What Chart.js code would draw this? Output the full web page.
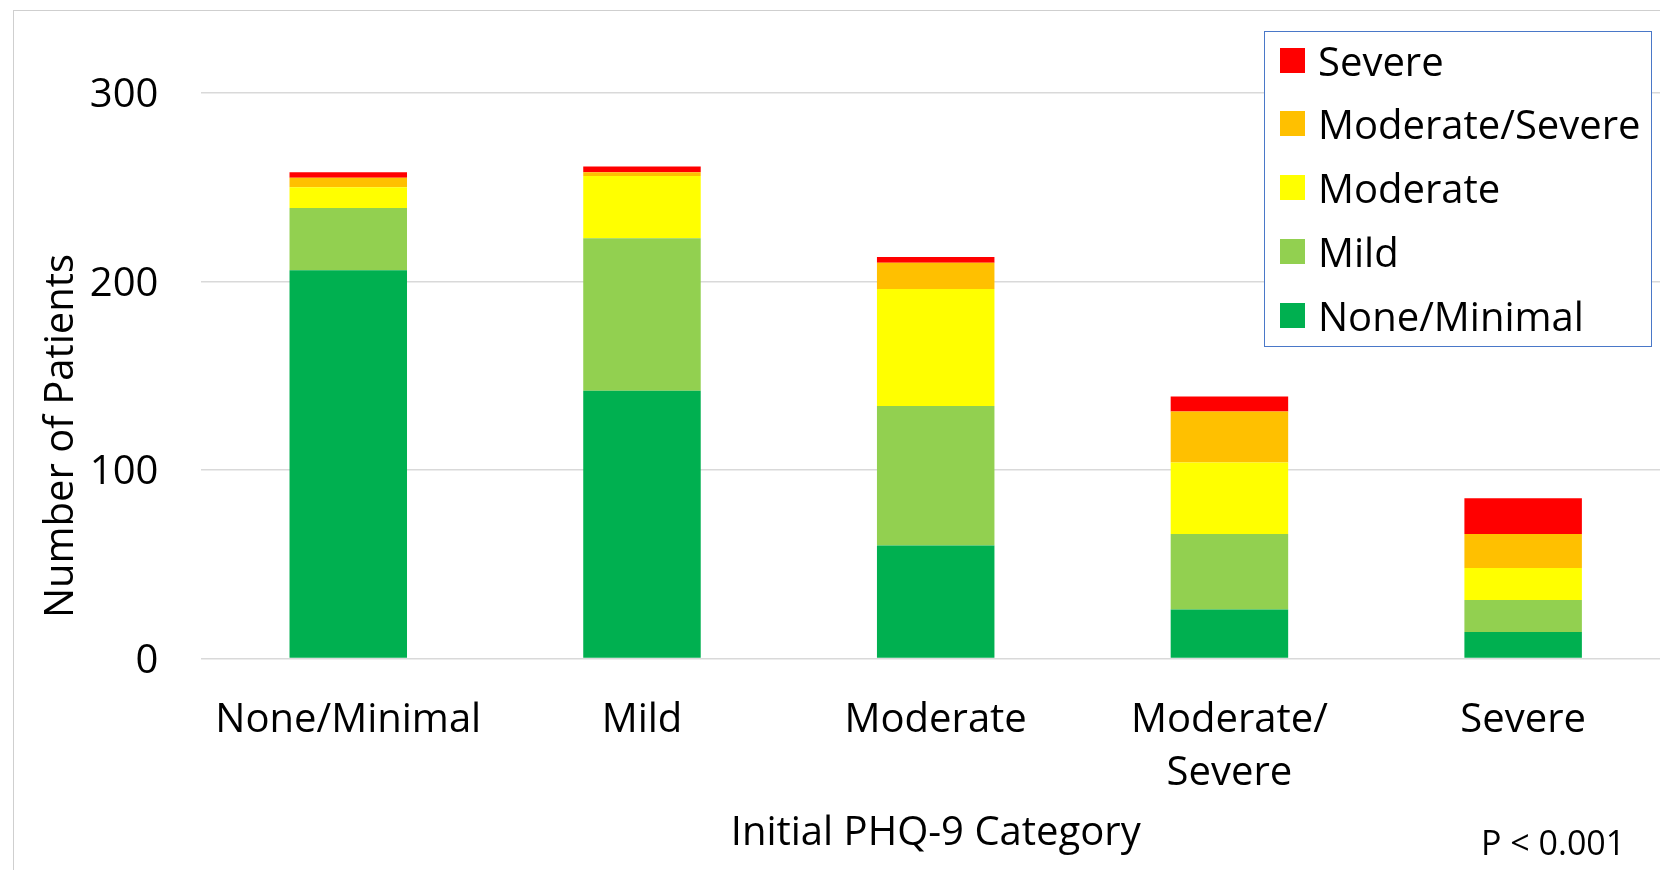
<!DOCTYPE html>
<html>
<head>
<meta charset="utf-8">
<title>Follow-up PHQ-9 by Initial PHQ-9 Category</title>
<script src="https://cdn.jsdelivr.net/npm/chart.js@4/dist/chart.umd.min.js"></script>
<style>
  html, body { margin: 0; padding: 0; background: #fff; overflow: hidden; }
  body { width: 1660px; height: 870px; position: relative; font-family: "Open Sans", sans-serif; }
  #frame { position: absolute; left: 13px; top: 10px; width: 2000px; height: 2000px;
           border-left: 1.5px solid #cfcfcf; border-top: 1.5px solid #cfcfcf; }
  #wrap { position: absolute; left: 0; top: 0; width: 1680px; height: 870px; }
  #legend { position: absolute; left: 1264px; top: 31px; width: 388px; height: 316px;
            border: 1.3px solid #4a78c8; background: #fff; box-sizing: border-box; }
  #legend .row { position: absolute; left: 15px; height: 64px; display: flex; align-items: center;
                 font-size: 40px; color: #000; white-space: nowrap; }
  #legend .sw { width: 25px; height: 25px; margin-right: 13px; flex: none; }
</style>
</head>
<body>
<div id="frame"></div>
<div id="wrap"><canvas id="chart" width="1680" height="870"></canvas></div>
<div id="legend"></div>
<script>
// Initial PHQ-9 category on the x axis; stacks show the follow-up category.
const categories = ['None/Minimal', 'Mild', 'Moderate', ['Moderate/', 'Severe'], 'Severe'];

// Number of patients per follow-up category, one value per initial category
const noneMinimal    = [206, 142, 60, 26, 14];
const mild           = [33, 81, 74, 40, 17];
const moderate       = [11, 33, 62, 38, 17];
const moderateSevere = [5, 2, 14, 27, 18];
const severe         = [3, 3, 3, 8, 19];

const yTicks = [0, 100, 200, 300];

const seriesNames  = ['None/Minimal', 'Mild', 'Moderate', 'Moderate/Severe', 'Severe'];
const seriesValues = [noneMinimal, mild, moderate, moderateSevere, severe];
const seriesColors = ['#00B050', '#92D050', '#FFFF00', '#FFC000', '#FF0000'];

const FONT = '"Open Sans", sans-serif';

// Free-standing labels: rotated y-axis title and the significance note
const annotations = {
  id: 'annotations',
  afterDraw(chart) {
    const ctx = chart.ctx;
    ctx.save();
    ctx.fillStyle = '#000';
    ctx.font = '40px ' + FONT;
    ctx.textAlign = 'center';
    ctx.textBaseline = 'alphabetic';
    ctx.translate(73, 436);
    ctx.rotate(-Math.PI / 2);
    ctx.fillText('Number of Patients', 0, 0);
    ctx.restore();

    ctx.save();
    ctx.fillStyle = '#000';
    ctx.font = '34px ' + FONT;
    ctx.textAlign = 'left';
    ctx.textBaseline = 'alphabetic';
    ctx.fillText('P < 0.001', 1481, 855);
    ctx.restore();
  }
};

const chart = new Chart(document.getElementById('chart'), {
  type: 'bar',
  data: {
    labels: categories,
    datasets: seriesNames.map((name, i) => ({
      label: name,
      data: seriesValues[i],
      backgroundColor: seriesColors[i],
      borderWidth: 0,
      barPercentage: 0.4,
      categoryPercentage: 1.0
    }))
  },
  options: {
    responsive: false,
    devicePixelRatio: 1,
    animation: false,
    layout: { padding: { top: 93, right: 10, bottom: 0, left: 0 } },
    plugins: { legend: { display: false }, tooltip: { enabled: false } },
    scales: {
      x: {
        stacked: true,
        grid: { display: false, drawTicks: false },
        border: { display: false },
        ticks: {
          color: '#000',
          font: { family: FONT, size: 40, lineHeight: 1.34 },
          padding: 35,
          maxRotation: 0,
          autoSkip: false
        },
        title: {
          display: true,
          text: 'Initial PHQ-9 Category',
          color: '#000',
          font: { family: FONT, size: 40, lineHeight: 1.2 },
          padding: { top: 0, bottom: 12 }
        },
        afterFit(scale) { scale.height = 211.5; }
      },
      y: {
        stacked: true,
        min: 0,
        max: 300,
        afterBuildTicks(scale) { scale.ticks = yTicks.map(v => ({ value: v })); },
        grid: { color: '#d9d9d9', lineWidth: 1.5, drawTicks: false },
        border: { display: false },
        ticks: {
          color: '#000',
          font: { family: FONT, size: 40 },
          padding: 43,
          labelOffset: 3
        },
        afterFit(scale) { scale.width = 201.4; }
      }
    }
  },
  plugins: [annotations]
});

// Legend built from the chart's datasets, topmost stack segment first
const legendEl = document.getElementById('legend');
chart.data.datasets.slice().reverse().forEach((ds, i) => {
  const row = document.createElement('div');
  row.className = 'row';
  row.style.top = (i * 63.8 - 4) + 'px';
  const sw = document.createElement('span');
  sw.className = 'sw';
  sw.style.background = ds.backgroundColor;
  const txt = document.createElement('span');
  txt.textContent = ds.label;
  row.appendChild(sw);
  row.appendChild(txt);
  legendEl.appendChild(row);
});
</script>
</body>
</html>
